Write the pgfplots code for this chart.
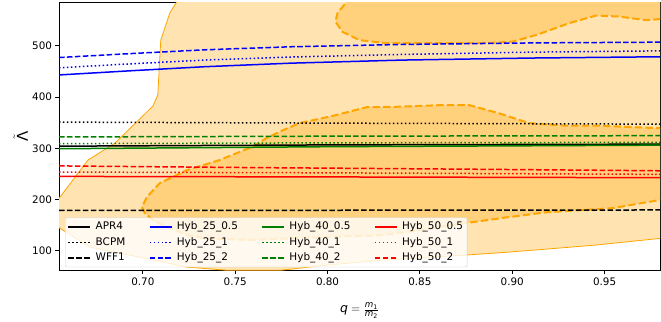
\documentclass[border=0pt]{standalone}
\usepackage{pgfplots}
\pgfplotsset{compat=1.18}
\usepackage{amsmath}
\usepackage{fontspec}
\setmainfont{DejaVu Sans}
\definecolor{mplorange}{RGB}{255,165,0}
\definecolor{lightfill}{RGB}{255,228,178}
\definecolor{darkfill}{RGB}{255,209,125}
\definecolor{mplgreen}{RGB}{0,128,0}
\definecolor{mplblue}{RGB}{0,0,255}
\definecolor{mplred}{RGB}{255,0,0}
\definecolor{legendedge}{RGB}{204,204,204}
\tikzset{
  dotl/.style={dash pattern=on 1.5bp off 2.475bp},
  dashl/.style={dash pattern=on 5.55bp off 2.4bp},
  lw/.style={line width=1.5bp}
}
\begin{document}
\begin{tikzpicture}
\begin{axis}[
  scale only axis, width=601bp, height=268bp,
  at={(0,0)}, anchor=south west,
  xmin=0.6546, xmax=0.98, ymin=61, ymax=584,
  xtick={0.70,0.75,0.80,0.85,0.90,0.95},
  xticklabels={0.70,0.75,0.80,0.85,0.90,0.95},
  ytick={100,200,300,400,500},
  tick align=outside,
  xtick pos=left, ytick pos=left,
  major tick length=3.5bp,
  tick style={black, line width=0.8bp},
  axis line style={black, line width=0.8bp},
  ticklabel style={font=\fontsize{10.4}{12}\selectfont},
  /pgf/number format/assume math mode=true,
  xlabel={\fontsize{12.5}{14}\selectfont $\text{\itshape q} = \frac{\text{\itshape m}_{\text{1}}}{\text{\itshape m}_{\text{2}}}$},
  ylabel={\fontsize{15}{17}\selectfont $\tilde{\text{Λ}}$},
  every axis x label/.style={at={(axis description cs:0.5,-0.149)},anchor=center},
  every axis y label/.style={at={(axis description cs:-0.0638,0.5)},anchor=center,rotate=90},
  legend columns=4,
  legend cell align=left,
  legend style={at={(0.01,0.013)}, anchor=south west, fill=white, fill opacity=0.8, text opacity=1,
    draw=legendedge, rounded corners=2bp, font=\fontsize{10.5}{12}\selectfont,
    inner sep=2.5bp, row sep=2bp,
    nodes={inner sep=1.5bp, text height=8bp, text depth=2.5bp},
    /tikz/every even column/.append style={column sep=22bp},
    /tikz/every odd column/.append style={column sep=3bp}},
  legend image code/.code={\draw[#1] (0bp,0bp) -- (22bp,0bp);},
]
% light contour region
\addplot[fill=lightfill, draw=mplorange, line width=0.8bp, forget plot] coordinates {
(0.646,164) (0.655,144) (0.6713,107) (0.700,86) (0.7238,68) (0.745,62) (0.775,62) (0.80,72)
(0.828,81) (0.85,86) (0.873,91) (0.897,97) (0.918,103) (0.945,111) (0.98,124) (1.0,131)
(1.0,620) (0.7215,620) (0.7189,589) (0.7146,564) (0.7097,511) (0.7081,404) (0.7054,382)
(0.6849,310) (0.6703,277) (0.655,204)
} -- cycle;
% dark middle region
\addplot[fill=darkfill, draw=mplorange, line width=2bp, dash pattern=on 7.4bp off 3.2bp, forget plot] coordinates {
(0.6995,185) (0.7011,173) (0.7054,160) (0.713,147) (0.7243,130) (0.735,124) (0.75,122) (0.76,121)
(0.78,124) (0.80,127) (0.8281,130) (0.85,140) (0.873,153) (0.8968,165) (0.9184,175) (0.9541,183)
(0.98,199) (1.0,208) (1.0,338) (0.98,339) (0.947,344) (0.9292,344) (0.9092,349) (0.893,368)
(0.8768,384) (0.8605,384) (0.8389,381) (0.8211,380) (0.8027,363) (0.7849,349) (0.7757,335)
(0.767,320) (0.7595,303) (0.7416,277) (0.7238,257) (0.7092,232) (0.7022,205)
} -- cycle;
% dark top region
\addplot[fill=darkfill, draw=mplorange, line width=2bp, dash pattern=on 7.4bp off 3.2bp, forget plot] coordinates {
(0.8125,620) (0.8103,585) (0.8054,564) (0.8043,547) (0.8081,527) (0.8173,511) (0.8319,505)
(0.8859,505) (0.90,508) (0.913,521) (0.9308,544) (0.9454,559) (0.9578,557) (0.9724,550)
(0.98,552) (1.0,553) (1.0,620)
} -- cycle;
% EOS lines
\addplot[black, lw, forget plot] coordinates {(0.6546,304) (0.80,306.5) (0.98,308)};
\addplot[black, lw, dotl, forget plot] coordinates {(0.6546,351) (0.80,349) (0.98,347)};
\addplot[black, lw, dashl, forget plot] coordinates {(0.6546,178.5) (0.98,179.5)};
\addplot[mplblue, lw, forget plot] coordinates {(0.6546,443) (0.695,451.5) (0.733,459) (0.78,466) (0.84,472) (0.91,476) (0.98,478.5)};
\addplot[mplblue, lw, dotl, forget plot] coordinates {(0.6546,457) (0.695,465) (0.733,472) (0.78,478) (0.84,483) (0.91,487.5) (0.98,490)};
\addplot[mplblue, lw, dashl, forget plot] coordinates {(0.6546,477) (0.695,485) (0.733,492) (0.78,498) (0.84,502.5) (0.91,505.5) (0.98,507)};
\addplot[mplgreen, lw, forget plot] coordinates {(0.6546,299) (0.80,303) (0.98,306)};
\addplot[mplgreen, lw, dotl, forget plot] coordinates {(0.6546,309) (0.80,310.5) (0.98,311.5)};
\addplot[mplgreen, lw, dashl, forget plot] coordinates {(0.6546,322) (0.80,323.5) (0.98,324.5)};
\addplot[mplred, lw, forget plot] coordinates {(0.6546,245) (0.80,244) (0.98,242.5)};
\addplot[mplred, lw, dotl, forget plot] coordinates {(0.6546,253.5) (0.80,252) (0.98,249)};
\addplot[mplred, lw, dashl, forget plot] coordinates {(0.6546,265.5) (0.75,262.5) (0.88,259) (0.98,256)};
% legend (row-wise order)
\addlegendimage{black, lw}\addlegendentry{APR4}
\addlegendimage{mplblue, lw}\addlegendentry{Hyb\_25\_0.5}
\addlegendimage{mplgreen, lw}\addlegendentry{Hyb\_40\_0.5}
\addlegendimage{mplred, lw}\addlegendentry{Hyb\_50\_0.5}
\addlegendimage{black, lw, dotl}\addlegendentry{BCPM}
\addlegendimage{mplblue, lw, dotl}\addlegendentry{Hyb\_25\_1}
\addlegendimage{mplgreen, lw, dotl}\addlegendentry{Hyb\_40\_1}
\addlegendimage{mplred, lw, dotl}\addlegendentry{Hyb\_50\_1}
\addlegendimage{black, lw, dashl}\addlegendentry{WFF1}
\addlegendimage{mplblue, lw, dashl}\addlegendentry{Hyb\_25\_2}
\addlegendimage{mplgreen, lw, dashl}\addlegendentry{Hyb\_40\_2}
\addlegendimage{mplred, lw, dashl}\addlegendentry{Hyb\_50\_2}
\end{axis}
\pgfresetboundingbox
\path[use as bounding box] (-59bp,-51.3bp) rectangle (602bp,270.7bp);
\end{tikzpicture}
\end{document}
